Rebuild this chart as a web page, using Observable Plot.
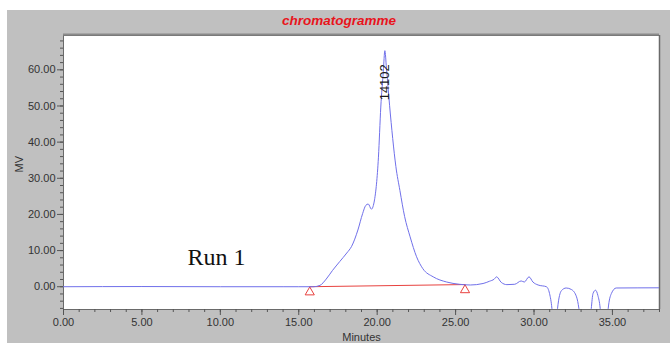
<!DOCTYPE html>
<html>
<head>
<meta charset="utf-8">
<script src="https://cdn.jsdelivr.net/npm/d3@7"></script>
<script src="https://cdn.jsdelivr.net/npm/@observablehq/plot@0.6"></script>
<style>
  html, body { margin: 0; padding: 0; background: white; }
  #c { position: absolute; left: 7px; top: 10px; width: 663px; height: 333px; background: #c0c0c0; }
</style>
</head>
<body>
<div id="c"></div>
<script>
// Chromatogram trace (minutes, mV)
const minutes = [0, 5, 10, 14, 15, 15.94, 16.35, 16.75, 17.15, 17.61, 18.06, 18.37, 18.77, 19.07, 19.27, 19.43, 19.63, 19.83, 20.08, 20.23, 20.39, 20.49, 20.59, 20.79, 20.99, 21.19, 21.45, 21.75, 22.1, 22.51, 22.91, 23.57, 24.43, 25.24, 25.94, 26.75, 27.15, 27.46, 27.61, 27.91, 28.27, 28.77, 29.18, 29.38, 29.68, 29.93, 30.26, 30.79, 30.99, 31.14, 31.25, 31.4, 31.5, 31.75, 32.05, 32.38, 32.71, 32.86, 33.01, 33.52, 33.65, 33.76, 33.92, 34.07, 34.22, 34.33, 34.63, 34.73, 34.93, 35.24, 38];
const mv      = [0.0, 0.05, 0.0, 0.0, 0.0, 0.0, 0.37, 2.12, 4.49, 6.95, 9.32, 11.17, 15.69, 20.21, 22.48, 22.89, 21.45, 24.02, 35.84, 49.7, 59.5, 65.3, 60.5, 50.2, 41.0, 33.3, 26.6, 19.4, 13.8, 8.3, 5.0, 2.74, 1.3, 0.68, 0.48, 0.89, 1.5, 2.1, 2.74, 1.2, 0.58, 0.68, 1.6, 1.3, 2.74, 1.3, 0.48, 0.0, -1.9, -6, -12, -12, -6, -1.07, -0.35, -0.76, -2.8, -6, -12, -12, -6, -1.9, -0.96, -2.4, -6, -12, -12, -6, -1.9, -0.35, -0.3];

// Integration baseline (start / end markers)
const baseMinutes = [15.7, 25.6];
const baseMv = [0.0, 0.6];

// Peak annotation
const peakMinute = [20.49];
const peakMv = [65.3];
const peakLabel = ["14102"];

// Axis ticks
const xMajor = [0, 5, 10, 15, 20, 25, 30, 35];
const xMinor = d3.range(0, 39, 1);
const yMajor = [0, 10, 20, 30, 40, 50, 60];
const yMinor = d3.range(-6, 70, 2);
const xDomain = [0, 38];
const yDomain = [-6.3, 69.5];

const title = "chromatogramme";
const xLabel = "Minutes";
const yLabel = "MV";
const runLabel = ["Run 1"];
const runAt = {x: 9.75, y: 6};

const trace = minutes.map((m, i) => ({m, v: mv[i]}));
const base = baseMinutes.map((m, i) => ({m, v: baseMv[i]}));
const fmt = d3.format(".2f");

const chart = Plot.plot({
  width: 663,
  height: 333,
  marginTop: 25,
  marginRight: 11,
  marginBottom: 34,
  marginLeft: 56,
  style: {background: "#c0c0c0", fontFamily: "Liberation Sans, Arial, sans-serif", fontSize: "11px", color: "#333"},
  x: {domain: xDomain, label: null},
  y: {domain: yDomain, label: null},
  marks: [
    Plot.frame({fill: "white", stroke: "#6a6a6a"}),
    Plot.ruleY([yDomain[1]], {stroke: "#8a8a8a", strokeWidth: 2, dy: -1}),
    Plot.ruleX([xDomain[1]], {stroke: "#6a6a6a", strokeWidth: 1.5}),
    Plot.axisX(xMinor, {tickSize: 3, tickFormat: null, text: null, stroke: "#555"}),
    Plot.axisX(xMajor, {tickSize: 6, tickPadding: 3, tickFormat: fmt, stroke: "#555", fill: "#333"}),
    Plot.axisY(yMinor, {tickSize: 3, tickFormat: null, text: null, stroke: "#555"}),
    Plot.axisY(yMajor, {tickSize: 6, tickPadding: 2, tickFormat: fmt, stroke: "#555", fill: "#333"}),
    Plot.line(base, {x: "m", y: "v", stroke: "#e8423f", strokeWidth: 1}),
    Plot.dot(base, {x: "m", y: "v", symbol: "triangle", r: 3.4, stroke: "#e8423f", fill: "none", strokeWidth: 1, dy: 5.5}),
    Plot.line(trace, {x: "m", y: "v", curve: "monotone-x", stroke: "#7070ea", strokeWidth: 1, clip: true}),
    Plot.text(peakLabel, {x: peakMinute, y: peakMv, text: d => d, rotate: -90, textAnchor: "end", lineAnchor: "middle", dy: 13.5, fontSize: 13, fill: "#1a1a1a"}),
    Plot.text(runLabel, {x: [runAt.x], y: [runAt.y], text: d => d, fontFamily: "Liberation Serif, Times New Roman, serif", fontSize: 24, fill: "#111", lineAnchor: "bottom"}),
    Plot.text([title], {frameAnchor: "top", text: d => d, dx: -22.5, dy: -15, lineAnchor: "middle", fontSize: 13.5, fontWeight: "bold", fontStyle: "italic", fill: "#e8141c"}),
    Plot.text([xLabel], {frameAnchor: "bottom", text: d => d, dy: 28, lineAnchor: "middle", fontSize: 11, fill: "#333"}),
    Plot.text([yLabel], {frameAnchor: "left", text: d => d, dx: -44, rotate: -90, lineAnchor: "middle", fontSize: 11, fill: "#333"})
  ]
});
document.getElementById("c").appendChild(chart);
</script>
</body>
</html>
